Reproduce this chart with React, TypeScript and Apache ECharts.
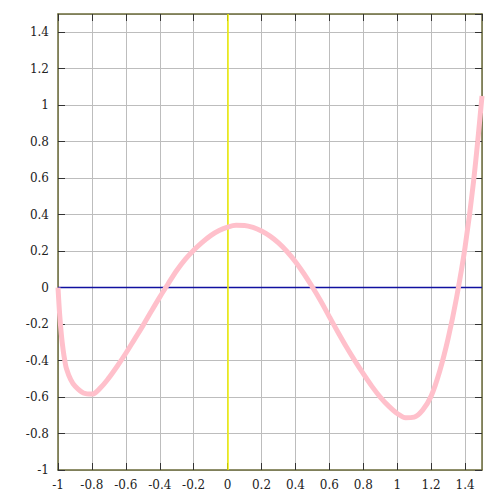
import React, { useEffect, useRef } from "react";
import * as echarts from "echarts";

const xValues = [
  -1, -0.99, -0.98, -0.97, -0.96, -0.95, -0.925, -0.9, -0.85, -0.8, -0.75, -0.7, -0.65, -0.6,
  -0.55, -0.5, -0.45, -0.4, -0.35, -0.3, -0.25, -0.2, -0.15, -0.1, -0.05, 0, 0.05, 0.1, 0.15,
  0.2, 0.25, 0.3, 0.35, 0.4, 0.45, 0.5, 0.55, 0.6, 0.65, 0.7, 0.75, 0.8, 0.85, 0.9, 0.95, 1.0,
  1.05, 1.1, 1.15, 1.2, 1.25, 1.3, 1.35, 1.4, 1.45, 1.5,
];
const yValues = [
  0, -0.15, -0.26, -0.34, -0.4, -0.445, -0.505, -0.54, -0.578, -0.584, -0.55, -0.495, -0.43, -0.36,
  -0.285, -0.21, -0.13, -0.052, 0.022, 0.094, 0.155, 0.205, 0.248, 0.285, 0.313, 0.332, 0.342, 0.341, 0.33,
  0.31, 0.282, 0.245, 0.198, 0.142, 0.076, 0.003, -0.075, -0.16, -0.243, -0.324, -0.4, -0.472, -0.54, -0.6, -0.65, -0.69,
  -0.714, -0.71, -0.672, -0.595, -0.46, -0.28, -0.055, 0.22, 0.58, 1.05,
];

const xTickInterval = 0.2;
const yTickInterval = 0.2;

export default function App() {
  const ref = useRef<HTMLDivElement>(null);
  useEffect(() => {
    if (!ref.current) return;
    const chart = echarts.init(ref.current, undefined, { renderer: "svg" });
    const serif = "DejaVu Serif";
    const labelFont = {
      fontFamily: serif,
      fontSize: 12,
      color: "#222",
    };
    const borderColor = "#6b6b3a";
    const data = xValues.map((x, i) => [x, yValues[i]]);
    chart.setOption({
      animation: false,
      backgroundColor: "#fff",
      textStyle: { fontFamily: serif },
      grid: { left: 58, top: 14, right: 18, bottom: 30, show: false },
      xAxis: [
        {
          type: "value",
          min: -1,
          max: 1.5,
          interval: xTickInterval,
          position: "bottom",
          axisLine: { show: true, onZero: false, lineStyle: { color: borderColor, width: 1.5 } },
          axisTick: { show: true, inside: true, length: 7, lineStyle: { color: "#333" } },
          axisLabel: { ...labelFont, margin: 9, showMaxLabel: false },
          splitLine: { show: true, lineStyle: { color: "#bdbdbd", width: 1 } },
        },
        {
          type: "value",
          min: -1,
          max: 1.5,
          interval: xTickInterval,
          position: "top",
          axisLine: { show: true, onZero: false, lineStyle: { color: borderColor, width: 1.5 } },
          axisTick: { show: true, inside: true, length: 7, lineStyle: { color: "#333" } },
          axisLabel: { show: false },
          splitLine: { show: false },
        },
      ],
      yAxis: [
        {
          type: "value",
          min: -1,
          max: 1.5,
          interval: yTickInterval,
          position: "left",
          axisLine: { show: true, onZero: false, lineStyle: { color: borderColor, width: 1.5 } },
          axisTick: { show: true, inside: true, length: 7, lineStyle: { color: "#333" } },
          axisLabel: { ...labelFont, margin: 9, showMaxLabel: false },
          splitLine: { show: true, lineStyle: { color: "#bdbdbd", width: 1 } },
        },
        {
          type: "value",
          min: -1,
          max: 1.5,
          interval: yTickInterval,
          position: "right",
          axisLine: { show: true, onZero: false, lineStyle: { color: borderColor, width: 1.5 } },
          axisTick: { show: true, inside: true, length: 7, lineStyle: { color: "#333" } },
          axisLabel: { show: false },
          splitLine: { show: false },
        },
      ],
      series: [
        {
          type: "line",
          xAxisIndex: 0,
          yAxisIndex: 0,
          data: [],
          silent: true,
          markLine: {
            silent: true,
            symbol: "none",
            label: { show: false },
            data: [
              { yAxis: 0, lineStyle: { color: "#1010a0", width: 1.3, type: "solid" } },
              { xAxis: 0, lineStyle: { color: "#f0f000", width: 1.5, type: "solid" } },
            ],
          },
        },
        {
          type: "line",
          xAxisIndex: 0,
          yAxisIndex: 0,
          data,
          showSymbol: false,
          smooth: 0.35,
          lineStyle: { color: "#ffc0cb", width: 5 },
          z: 5,
        },
      ],
    });
    return () => chart.dispose();
  }, []);
  return <div ref={ref} style={{ width: 500, height: 500, marginLeft: -8, marginTop: -8 }} />;
}
